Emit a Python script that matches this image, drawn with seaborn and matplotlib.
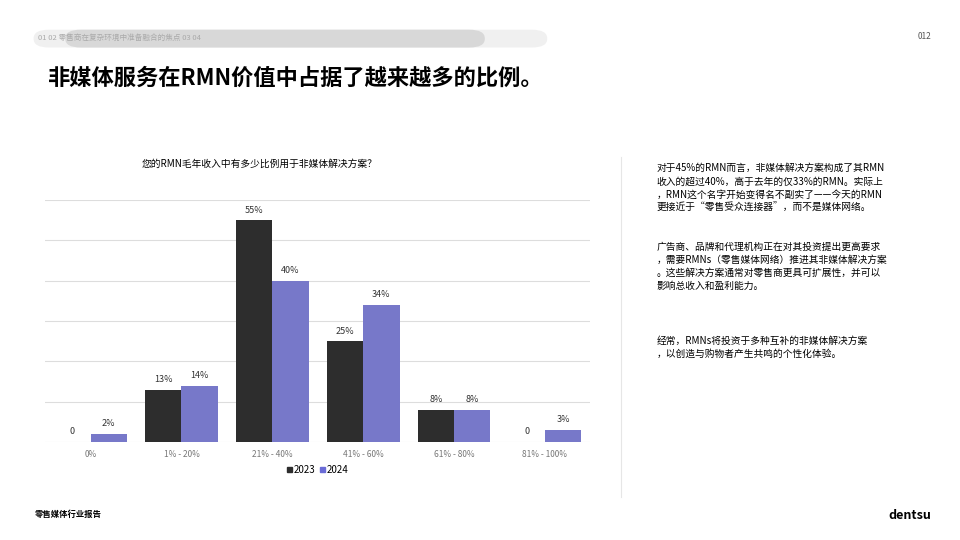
import matplotlib
matplotlib.use("Agg")
import matplotlib.pyplot as plt
from matplotlib.patches import FancyBboxPatch
import pandas as pd
import seaborn as sns

plt.rcParams["font.family"] = ["Noto Sans CJK SC", "DejaVu Sans"]

# Data
categories = ["0%", "1% - 20%", "21% - 40%", "41% - 60%", "61% - 80%", "81% - 100%"]
years = ["2023", "2024"]
values_2023 = [0, 13, 55, 25, 8, 0]
values_2024 = [2, 14, 40, 34, 8, 3]

df = pd.DataFrame({
    "range": categories * 2,
    "year": ["2023"] * len(categories) + ["2024"] * len(categories),
    "value": values_2023 + values_2024,
})

fig = plt.figure(figsize=(9.6, 5.4), dpi=100)

# header pill
fig.patches.append(FancyBboxPatch((0.035, 0.912), 0.535, 0.033, boxstyle="round,pad=0,rounding_size=0.016",
                                  transform=fig.transFigure, fc="#f0f0f0", ec="none"))
fig.patches.append(FancyBboxPatch((0.068, 0.912), 0.437, 0.033, boxstyle="round,pad=0,rounding_size=0.016",
                                  transform=fig.transFigure, fc="#d8d8d8", ec="none"))
fig.text(0.04, 0.929, "01 02 零售商在复杂环境中准备融合的焦点 03 04", fontsize=5.5, color="#aaaaaa", va="center")
fig.text(0.97, 0.932, "012", fontsize=6, color="#555555", ha="right", va="center")
fig.text(0.05, 0.855, "非媒体服务在RMN价值中占据了越来越多的比例。", fontsize=16, fontweight="bold", va="center")

ax = fig.add_axes([0.047, 0.1815, 0.568, 0.448])
sns.barplot(data=df, x="range", y="value", hue="year", palette=["#2d2d2d", "#6a6bd6"],
            width=0.8, ax=ax, legend=False)
ax.set_ylim(0, 60)
ax.set_xlim(-0.5, 5.5)
ax.set_yticks(range(0, 61, 10))
ax.set_yticklabels([])
ax.tick_params(length=0, axis="both")
ax.tick_params(axis="x", labelsize=6, colors="#777777", pad=6)
ax.grid(axis="y", color="#dddddd", lw=0.8)
ax.set_axisbelow(True)
for s in ax.spines.values():
    s.set_visible(False)
ax.set_xlabel("")
ax.set_ylabel("")
for cont in ax.containers:
    labels = ["0" if b.get_height() == 0 else f"{b.get_height():.0f}%" for b in cont]
    ax.bar_label(cont, labels=labels, fontsize=6.5, padding=4, color="#333333")

handles = [plt.Rectangle((0, 0), 1, 1, color=c) for c in ["#2d2d2d", "#6a6bd6"]]
fig.legend(handles, years, loc="center", bbox_to_anchor=(0.331, 0.13), ncol=2, frameon=False,
           fontsize=7, handlelength=0.5, handleheight=0.5, columnspacing=0.5, handletextpad=0.2)

fig.text(0.27, 0.697, "您的RMN毛年收入中有多少比例用于非媒体解决方案？", fontsize=7, ha="center", va="center")

fig.add_artist(plt.Line2D([0.647, 0.647], [0.08, 0.71], color="#e6e6e6", lw=0.8))

paras = [
    (0.698, "对于45%的RMN而言，非媒体解决方案构成了其RMN\n收入的超过40%，高于去年的仅33%的RMN。实际上\n，RMN这个名字开始变得名不副实了——今天的RMN\n更接近于“零售受众连接器”，而不是媒体网络。"),
    (0.553, "广告商、品牌和代理机构正在对其投资提出更高要求\n，需要RMNs（零售媒体网络）推进其非媒体解决方案\n。这些解决方案通常对零售商更具可扩展性，并可以\n影响总收入和盈利能力。"),
    (0.378, "经常，RMNs将投资于多种互补的非媒体解决方案\n，以创造与购物者产生共鸣的个性化体验。"),
]
for y, t in paras:
    fig.text(0.684, y, t, fontsize=7, va="top", linespacing=1.4)

fig.text(0.036, 0.048, "零售媒体行业报告", fontsize=6, fontweight="bold", va="center")
fig.text(0.97, 0.045, "dentsu", fontsize=9, fontweight="bold", ha="right", va="center")

fig.savefig("out.png", dpi=100)
